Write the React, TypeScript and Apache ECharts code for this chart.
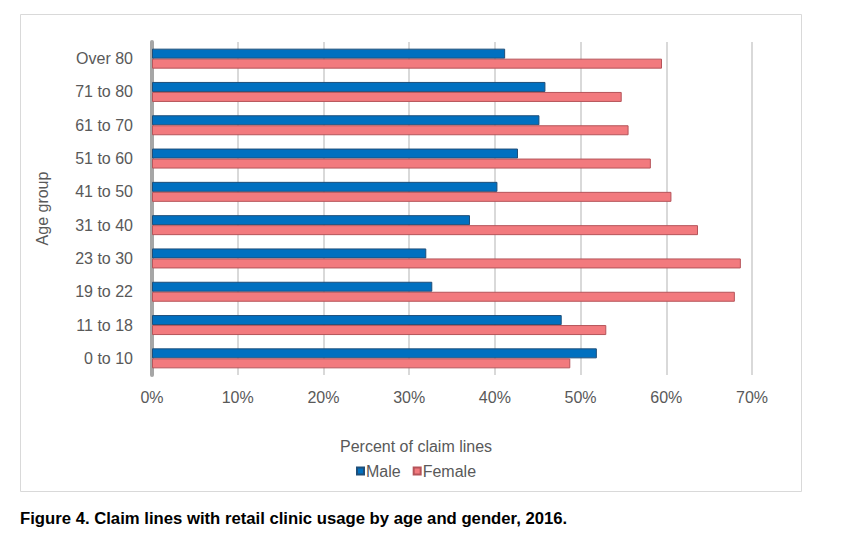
import React, { useEffect, useRef } from "react";
import * as echarts from "echarts";

const categories = ["0 to 10", "11 to 18", "19 to 22", "23 to 30", "31 to 40", "41 to 50", "51 to 60", "61 to 70", "71 to 80", "Over 80"];
const maleValues = [51.9, 47.8, 32.7, 32.0, 37.1, 40.3, 42.7, 45.2, 45.9, 41.2];
const femaleValues = [48.8, 53.0, 68.0, 68.7, 63.7, 60.6, 58.2, 55.6, 54.8, 59.5];
const xTicks = [0, 10, 20, 30, 40, 50, 60, 70];

export default function App() {
  const ref = useRef<HTMLDivElement>(null);
  useEffect(() => {
    if (!ref.current) return;
    const chart = echarts.init(ref.current, null, { renderer: "svg" });
    const font = "Liberation Sans, Arial, sans-serif";
    chart.setOption({
      animation: false,
      backgroundColor: "#ffffff",
      textStyle: { fontFamily: font },
      grid: { left: 152, right: 92, top: 42, bottom: 170, containLabel: false },
      xAxis: {
        type: "value",
        min: 0,
        max: 70,
        interval: 10,
        axisLabel: {
          formatter: (v: number) => (xTicks.includes(v) ? v + "%" : ""),
          color: "#595959",
          fontSize: 16,
          fontFamily: font,
          margin: 14,
        },
        axisLine: { show: false },
        axisTick: { show: false },
        splitLine: { show: true, lineStyle: { color: "#D9D9D9", width: 2 } },
      },
      yAxis: {
        type: "category",
        data: categories,
        name: "Age group",
        nameLocation: "middle",
        nameGap: 102,
        nameRotate: 90,
        nameTextStyle: { color: "#595959", fontSize: 16, fontFamily: font },
        axisLabel: { color: "#595959", fontSize: 16, fontFamily: font, margin: 19 },
        axisLine: { show: true, lineStyle: { color: "#A6A6A6", width: 4 } },
        axisTick: { show: false },
      },
      legend: {
        data: ["Male", "Female"],
        left: 351,
        top: 458,
        itemWidth: 7,
        itemHeight: 7,
        itemGap: 12,
        icon: "rect",
        textStyle: { color: "#595959", fontSize: 16, fontFamily: font, padding: [0, 0, 0, -3] },
      },
      graphic: [
        {
          type: "rect",
          shape: { x: 20.5, y: 14.5, width: 781, height: 477 },
          style: { fill: "none", stroke: "#D9D9D9", lineWidth: 1 },
          silent: true,
        },
        {
          type: "text",
          left: 340,
          top: 438,
          style: { text: "Percent of claim lines", fill: "#595959", font: "16px " + font },
        },
        {
          type: "text",
          left: 20,
          top: 510,
          style: {
            text: "Figure 4. Claim lines with retail clinic usage by age and gender, 2016.",
            fill: "#000000",
            font: "bold 16.7px " + font,
          },
        },
      ],
      series: [
        {
          name: "Male",
          type: "bar",
          data: maleValues,
          barWidth: 10,
          barGap: "0%",
          itemStyle: { color: "#0070C0", borderColor: "#1F4E79", borderWidth: 1 },
        },
        {
          name: "Female",
          type: "bar",
          data: femaleValues,
          barWidth: 10,
          barGap: "0%",
          itemStyle: { color: "#F27A7E", borderColor: "#B5545A", borderWidth: 1 },
        },
      ],
    });
    return () => chart.dispose();
  }, []);
  return <div ref={ref} style={{ position: "absolute", left: 0, top: 0, width: 844, height: 545 }} />;
}
